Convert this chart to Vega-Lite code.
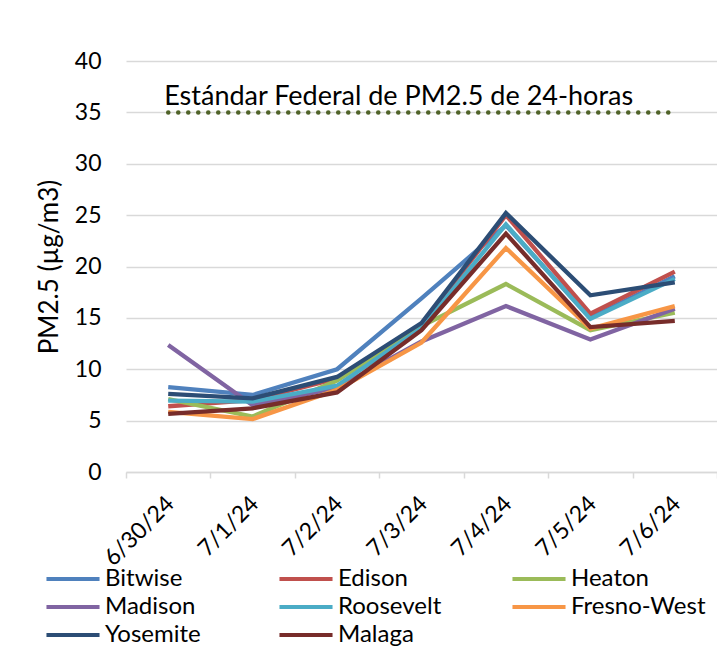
{
  "$schema": "https://vega.github.io/schema/vega-lite/v6.json",
  "width": 591,
  "height": 411,
  "autosize": {"type": "none"},
  "padding": {"left": 126, "top": 61, "right": 0, "bottom": 192},
  "background": "white",
  "config": {
    "view": {"stroke": null},
    "font": "Lato",
    "axis": {"labelFont": "Lato", "titleFont": "Lato", "labelColor": "#000000", "titleColor": "#000000"}
  },
  "datasets": {
    "pm": [
      {"date": "6/30/24", "site": "Bitwise", "pm": 8.25},
      {"date": "7/1/24", "site": "Bitwise", "pm": 7.5},
      {"date": "7/2/24", "site": "Bitwise", "pm": 10.0},
      {"date": "7/3/24", "site": "Bitwise", "pm": 16.9},
      {"date": "7/4/24", "site": "Bitwise", "pm": 24.0},
      {"date": "7/5/24", "site": "Bitwise", "pm": 15.0},
      {"date": "7/6/24", "site": "Bitwise", "pm": 19.05},
      {"date": "6/30/24", "site": "Edison", "pm": 6.4},
      {"date": "7/1/24", "site": "Edison", "pm": 7.0},
      {"date": "7/2/24", "site": "Edison", "pm": 9.1},
      {"date": "7/3/24", "site": "Edison", "pm": 14.3},
      {"date": "7/4/24", "site": "Edison", "pm": 25.0},
      {"date": "7/5/24", "site": "Edison", "pm": 15.4},
      {"date": "7/6/24", "site": "Edison", "pm": 19.5},
      {"date": "6/30/24", "site": "Heaton", "pm": 7.1},
      {"date": "7/1/24", "site": "Heaton", "pm": 5.4},
      {"date": "7/2/24", "site": "Heaton", "pm": 8.9},
      {"date": "7/3/24", "site": "Heaton", "pm": 14.2},
      {"date": "7/4/24", "site": "Heaton", "pm": 18.3},
      {"date": "7/5/24", "site": "Heaton", "pm": 13.8},
      {"date": "7/6/24", "site": "Heaton", "pm": 15.5},
      {"date": "6/30/24", "site": "Madison", "pm": 12.35},
      {"date": "7/1/24", "site": "Madison", "pm": 6.5},
      {"date": "7/2/24", "site": "Madison", "pm": 8.2},
      {"date": "7/3/24", "site": "Madison", "pm": 12.7},
      {"date": "7/4/24", "site": "Madison", "pm": 16.15},
      {"date": "7/5/24", "site": "Madison", "pm": 12.9},
      {"date": "7/6/24", "site": "Madison", "pm": 15.9},
      {"date": "6/30/24", "site": "Roosevelt", "pm": 6.95},
      {"date": "7/1/24", "site": "Roosevelt", "pm": 6.85},
      {"date": "7/2/24", "site": "Roosevelt", "pm": 8.4},
      {"date": "7/3/24", "site": "Roosevelt", "pm": 14.0},
      {"date": "7/4/24", "site": "Roosevelt", "pm": 24.1},
      {"date": "7/5/24", "site": "Roosevelt", "pm": 14.9},
      {"date": "7/6/24", "site": "Roosevelt", "pm": 18.8},
      {"date": "6/30/24", "site": "Fresno-West", "pm": 5.85},
      {"date": "7/1/24", "site": "Fresno-West", "pm": 5.15},
      {"date": "7/2/24", "site": "Fresno-West", "pm": 8.0},
      {"date": "7/3/24", "site": "Fresno-West", "pm": 12.6},
      {"date": "7/4/24", "site": "Fresno-West", "pm": 21.8},
      {"date": "7/5/24", "site": "Fresno-West", "pm": 13.95},
      {"date": "7/6/24", "site": "Fresno-West", "pm": 16.15},
      {"date": "6/30/24", "site": "Yosemite", "pm": 7.6},
      {"date": "7/1/24", "site": "Yosemite", "pm": 7.17},
      {"date": "7/2/24", "site": "Yosemite", "pm": 9.25},
      {"date": "7/3/24", "site": "Yosemite", "pm": 14.5},
      {"date": "7/4/24", "site": "Yosemite", "pm": 25.2},
      {"date": "7/5/24", "site": "Yosemite", "pm": 17.2},
      {"date": "7/6/24", "site": "Yosemite", "pm": 18.45},
      {"date": "6/30/24", "site": "Malaga", "pm": 5.65},
      {"date": "7/1/24", "site": "Malaga", "pm": 6.2},
      {"date": "7/2/24", "site": "Malaga", "pm": 7.75},
      {"date": "7/3/24", "site": "Malaga", "pm": 13.8},
      {"date": "7/4/24", "site": "Malaga", "pm": 23.2},
      {"date": "7/5/24", "site": "Malaga", "pm": 14.1},
      {"date": "7/6/24", "site": "Malaga", "pm": 14.7}
    ],
    "std": [
      {"date": "6/30/24", "value": 35, "label": "Estándar Federal de PM2.5 de 24-horas"},
      {"date": "7/6/24", "value": 35, "label": ""}
    ]
  },
  "layer": [
    {
      "data": {"name": "pm"},
      "mark": {"type": "line", "strokeWidth": 4.3, "strokeJoin": "miter", "strokeCap": "butt"},
      "encoding": {
        "x": {
          "field": "date", "type": "ordinal", "bandPosition": 0.5,
          "sort": ["6/30/24", "7/1/24", "7/2/24", "7/3/24", "7/4/24", "7/5/24", "7/6/24"],
          "scale": {"type": "band", "paddingInner": 0, "paddingOuter": 0},
          "axis": {
            "title": null, "labelAngle": -45, "labelFontSize": 23, "labelPadding": 14, "labelOffset": -6,
            "domainColor": "#d9d9d9", "domainWidth": 1.5, "tickColor": "#d9d9d9", "tickWidth": 1.5,
            "tickSize": 6, "tickBand": "extent", "grid": false
          }
        },
        "y": {
          "field": "pm", "type": "quantitative",
          "scale": {"domain": [0, 40], "nice": false},
          "axis": {
            "title": "PM2.5 (µg/m3)", "titleFontSize": 26, "titleFontWeight": "normal", "titlePadding": 12,
            "labelFontSize": 23, "labelPadding": 25, "labelOverlap": false, "values": [0, 5, 10, 15, 20, 25, 30, 35, 40],
            "domain": false, "ticks": false, "grid": true, "gridColor": "#d9d9d9", "gridWidth": 1.5
          }
        },
        "color": {
          "field": "site", "type": "nominal",
          "sort": ["Bitwise", "Edison", "Heaton", "Madison", "Roosevelt", "Fresno-West", "Yosemite", "Malaga"],
          "scale": {
            "domain": ["Bitwise", "Edison", "Heaton", "Madison", "Roosevelt", "Fresno-West", "Yosemite", "Malaga"],
            "range": ["#4F81BD", "#C0504D", "#9BBB59", "#8064A2", "#4BACC6", "#F79646", "#2C4D75", "#772C2A"]
          },
          "legend": {
            "title": null, "orient": "none", "legendX": -65, "legendY": 506, "direction": "horizontal",
            "columns": 3, "gridAlign": "all", "columnPadding": 31, "rowPadding": 4,
            "symbolType": "M-4,0H4", "symbolSize": 176, "symbolStrokeWidth": 4,
            "labelFontSize": 24, "labelOffset": 20, "labelColor": "#000000", "labelFont": "Lato"
          }
        },
        "order": {"field": "site"}
      }
    },
    {
      "data": {"name": "std"},
      "mark": {"type": "line", "color": "#4F6228", "strokeWidth": 4.5, "strokeCap": "round", "strokeDash": [0.1, 9.9]},
      "encoding": {
        "x": {"field": "date", "type": "ordinal", "bandPosition": 0.5, "sort": ["6/30/24", "7/1/24", "7/2/24", "7/3/24", "7/4/24", "7/5/24", "7/6/24"]},
        "y": {"field": "value", "type": "quantitative"}
      }
    },
    {
      "data": {"name": "std"},
      "mark": {"type": "text", "align": "left", "baseline": "alphabetic", "fontSize": 27, "font": "Lato", "color": "#000000", "dx": -4, "dy": -7},
      "encoding": {
        "x": {"field": "date", "type": "ordinal", "bandPosition": 0.5, "sort": ["6/30/24", "7/1/24", "7/2/24", "7/3/24", "7/4/24", "7/5/24", "7/6/24"]},
        "y": {"field": "value", "type": "quantitative"},
        "text": {"field": "label"}
      }
    }
  ]
}
